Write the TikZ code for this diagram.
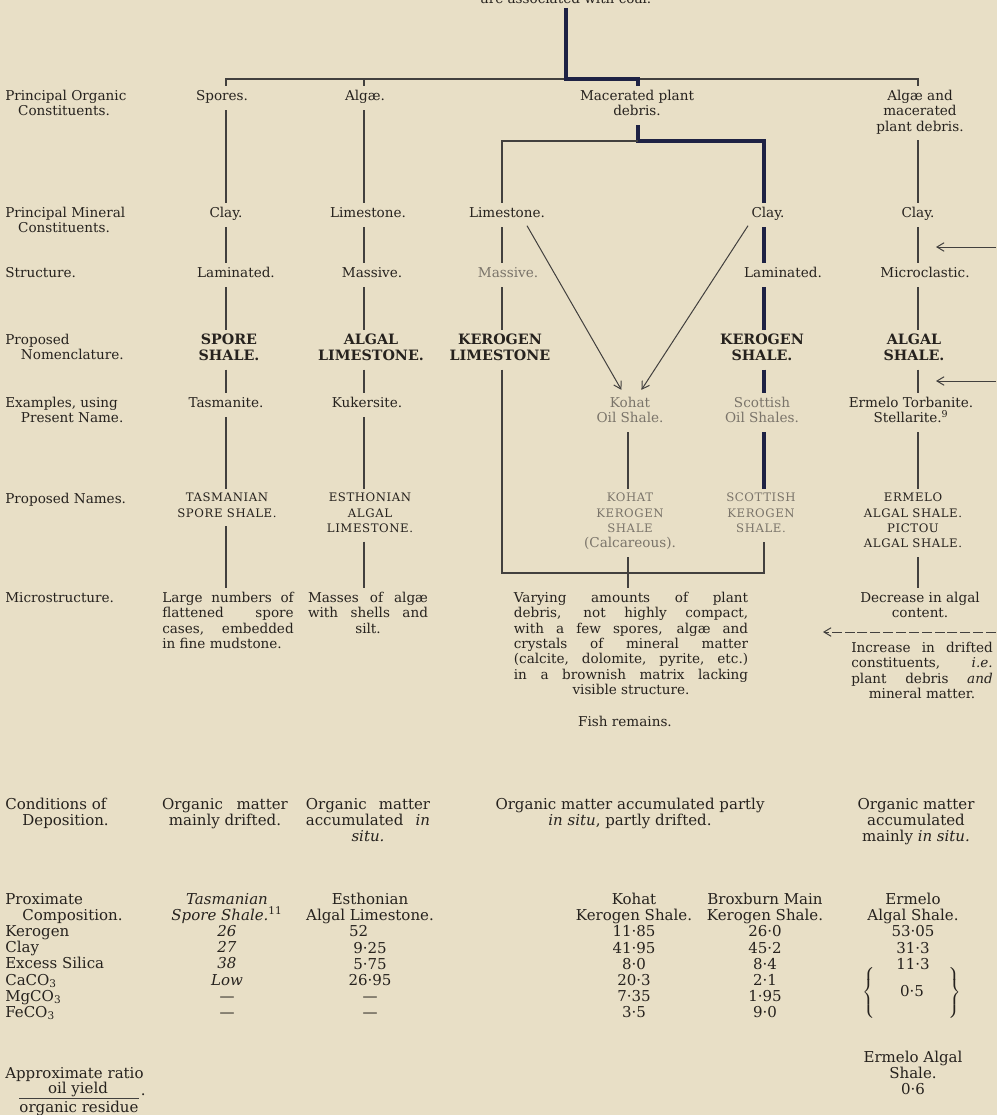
\documentclass[tikz,border=0pt]{standalone}
\usepackage{fontspec}
\setmainfont{DejaVu Serif}
\usetikzlibrary{arrows.meta}

\definecolor{paper}{RGB}{232,223,198}
\definecolor{ink}{RGB}{38,34,30}
\definecolor{faintink}{RGB}{122,116,106}
\definecolor{linecol}{RGB}{66,64,62}
\definecolor{thickcol}{RGB}{30,34,68}

\newcommand{\upperfont}{\fontsize{9.5}{10.7}\selectfont}
\newcommand{\lowerfont}{\fontsize{10.5}{11.3}\selectfont}
\newcommand{\nomfont}{\fontsize{10}{10.9}\selectfont\bfseries}
\newcommand{\namefont}{\fontsize{8.2}{10.7}\selectfont\addfontfeatures{LetterSpace=5}}
\newcommand{\jl}[2]{\makebox[#1][s]{#2}}

\begin{document}
\begin{tikzpicture}[x=0.7pt,y=-0.7pt,
    txt/.style={anchor=north, align=center, inner sep=0pt, font=\upperfont,
      text=ink, execute at begin node=\strut},
    lbl/.style={txt, anchor=north west, align=left},
    faint/.style={txt, text=faintink},
    nom/.style={txt, font=\nomfont},
    pname/.style={txt, font=\namefont},
    low/.style={txt, font=\lowerfont},
    link/.style={draw=linecol, line width=0.8pt, shorten <=3pt, shorten >=3pt},
    main/.style={draw=thickcol, line width=2.4pt, shorten <=3pt, shorten >=3pt},
    pointer/.style={draw=linecol, line width=0.7pt,
      -{Straight Barb[length=5pt,width=6pt]}}]

  \useasboundingbox (0,0) rectangle (997,1115);
  \clip (0,0) rectangle (997,1115);
  \fill[paper] (0,0) rectangle (997,1115);

  % heading, cut by the page edge
  \node[txt] (topnote) at (566,-7) {are associated with coal.};

  % row labels
  \node[lbl] (lorg) at (5,90) {Principal Organic\\\hspace*{9pt}Constituents.};
  \node[lbl] (lmin) at (5,207) {Principal Mineral\\\hspace*{9pt}Constituents.};
  \node[lbl] (lstr) at (5,267) {Structure.};
  \node[lbl] (lnom) at (5,334) {Proposed\\\hspace*{11pt}Nomenclature.};
  \node[lbl] (lex) at (5,397) {Examples, using\\\hspace*{11pt}Present Name.};
  \node[lbl] (lnames) at (5,493) {Proposed Names.};
  \node[lbl] (lmicro) at (5,592) {Microstructure.};
  \node[lbl, font=\lowerfont] (lcond) at (5,798) {Conditions of\\\hspace*{12pt}Deposition.};
  \node[lbl, font=\lowerfont] (lprox) at (5,893) {Proximate\\\hspace*{12pt}Composition.\\Kerogen\\Clay\\Excess Silica\\CaCO\textsubscript{3}\\MgCO\textsubscript{3}\\FeCO\textsubscript{3}};
  \node[lbl, font=\lowerfont] (lratio) at (5,1067) {Approximate ratio};

  % organic constituents
  \node[txt] (spores) at (222,90) {Spores.};
  \node[txt] (algae) at (365,90) {Algæ.};
  \node[txt] (macer) at (637,90) {Macerated plant\\debris.};
  \node[txt] (rdeb) at (920,90) {Algæ and\\macerated\\plant debris.};

  % mineral constituents
  \node[txt] (sclay) at (226,207) {Clay.};
  \node[txt] (alime) at (368,207) {Limestone.};
  \node[txt] (klime) at (507,207) {Limestone.};
  \node[txt] (hclay) at (768,207) {Clay.};
  \node[txt] (rclay) at (918,207) {Clay.};

  % structure
  \node[txt] (slam) at (236,267) {Laminated.};
  \node[txt] (amass) at (372,267) {Massive.};
  \node[faint] (kmass) at (508,267) {Massive.};
  \node[txt] (hlam) at (783,267) {Laminated.};
  \node[txt] (rmicro) at (925,267) {Microclastic.};

  % nomenclature
  \node[nom] (snom) at (229,334) {SPORE\\SHALE.};
  \node[nom] (anom) at (371,334) {ALGAL\\LIMESTONE.};
  \node[nom] (knom) at (500,334) {KEROGEN\\LIMESTONE};
  \node[nom] (hnom) at (762,334) {KEROGEN\\SHALE.};
  \node[nom] (rnom) at (914,334) {ALGAL\\SHALE.};

  % examples
  \node[txt] (sex) at (226,397) {Tasmanite.};
  \node[txt] (aex) at (367,397) {Kukersite.};
  \node[faint] (kohatex) at (630,397) {Kohat\\Oil Shale.};
  \node[faint] (hex) at (762,397) {Scottish\\Oil Shales.};
  \node[txt] (rex) at (911,397) {Ermelo Torbanite.\\Stellarite.\textsuperscript{9}};

  % proposed names
  \node[pname] (sname) at (227,493) {TASMANIAN\\SPORE SHALE.};
  \node[pname] (aname) at (370,493) {ESTHONIAN\\ALGAL\\LIMESTONE.};
  \node[pname, text=faintink] (kohatname) at (630,493) {KOHAT\\KEROGEN\\SHALE\\{\rmfamily\upperfont(Calcareous).}};
  \node[pname, text=faintink] (hname) at (761,493) {SCOTTISH\\KEROGEN\\SHALE.};
  \node[pname] (rname) at (913,493) {ERMELO\\ALGAL SHALE.\\PICTOU\\ALGAL SHALE.};

  % microstructure
  \node[txt] (smicro) at (228,592) {\jl{92pt}{Large numbers of}\\\jl{92pt}{flattened spore}\\\jl{92pt}{cases, embedded}\\\makebox[92pt][l]{in fine mudstone.}};
  \node[txt] (amicro) at (368,592) {\jl{84pt}{Masses of algæ}\\\jl{84pt}{with shells and}\\silt.};
  \node[txt] (varying) at (631,592) {\jl{164pt}{Varying amounts of plant}\\\jl{164pt}{debris, not highly compact,}\\\jl{164pt}{with a few spores, algæ and}\\\jl{164pt}{crystals of mineral matter}\\\jl{164pt}{(calcite, dolomite, pyrite, etc.)}\\\jl{164pt}{in a brownish matrix lacking}\\visible structure.};
  \node[txt] (fish) at (625,716) {Fish remains.};
  \node[txt] (rdec) at (920,592) {Decrease in algal\\content.};
  \node[txt] (rinc) at (922,642) {\jl{99pt}{Increase in drifted}\\\jl{99pt}{constituents, \emph{i.e.}}\\\jl{99pt}{plant debris \emph{and}}\\mineral matter.};

  % conditions of deposition
  \node[low] (scond) at (225,798) {\jl{88pt}{Organic matter}\\mainly drifted.};
  \node[low] (acond) at (368,798) {\jl{87pt}{Organic matter}\\\jl{87pt}{accumulated \emph{in}}\\\emph{situ.}};
  \node[low] (kcond) at (630,798) {Organic matter accumulated partly\\\emph{in situ}, partly drifted.};
  \node[low] (rcond) at (916,798) {Organic matter\\accumulated\\mainly \emph{in situ.}};

  % proximate composition
  \node[low] (tasm) at (227,893) {\emph{Tasmanian}\\\emph{Spore Shale.}\textsuperscript{11}\\\emph{26}\\\emph{27}\\\emph{38}\\\emph{Low}\\—\\—};
  \node[low] (esth) at (370,893) {Esthonian\\Algal Limestone.\\52\kern16pt\\9·25\\5·75\\26·95\\—\\—};
  \node[low] (kohc) at (634,893) {Kohat\\Kerogen Shale.\\11·85\\41·95\\8·0\\20·3\\7·35\\3·5};
  \node[low] (brox) at (765,893) {Broxburn Main\\Kerogen Shale.\\26·0\\45·2\\8·4\\2·1\\1·95\\9·0};
  \node[low] (ermc) at (913,893) {Ermelo\\Algal Shale.\\53·05\\31·3\\11·3};
  \node[low, anchor=center] (ermbr) at (912,994) {$\left\{\vrule height 17pt depth 17pt width 0pt\right.$\hspace{16pt}0·5\hspace{16pt}$\left.\vrule height 17pt depth 17pt width 0pt\right\}$};

  % oil ratio
  \node[low] (oily) at (78,1082) {oil yield};
  \node[low] (orgres) at (79,1101) {organic residue};
  \draw[linecol, line width=0.8pt] ([yshift=2pt]orgres.north west) -- ([yshift=2pt]orgres.north east)
    node[anchor=south west, inner sep=1pt, font=\lowerfont, text=ink] (ratiodot) {.};
  \node[low] (ermratio) at (913,1051) {Ermelo Algal\\Shale.\\0·6};

  % branching from the top
  \coordinate (top) at (566,8);
  \coordinate (fork) at (566,79);
  \coordinate (forkR) at (638,79);
  \coordinate (fork2) at (638,141);
  \coordinate (cS) at (226,0);
  \coordinate (cA) at (364,0);
  \coordinate (cK) at (502,0);
  \coordinate (cO) at (628,0);
  \coordinate (cH) at (764,0);
  \coordinate (cR) at (918,0);
  \coordinate (kbot) at (502,573);
  \coordinate (hbot) at (764,573);

  \draw[link] (spores.north -| cS) -- (cS |- fork) -- (cR |- fork) -- (rdeb.north -| cR);
  \draw[link, shorten <=0pt] (cA |- fork) -- (algae.north -| cA);
  \draw[main, shorten <=0pt] (top) -- (fork) -- (forkR) -- (macer.north -| forkR);
  \draw[main] (macer.south -| fork2) -- (fork2) -- (cH |- fork2) -- (hclay.north -| cH);
  \draw[link, shorten <=0pt] (fork2) -- (cK |- fork2) -- (klime.north -| cK);

  % columns
  \foreach \a/\b in {spores/sclay, sclay/slam, slam/snom, snom/sex, sex/sname, sname/smicro}
    \draw[link] (\a.south -| cS) -- (\b.north -| cS);
  \foreach \a/\b in {algae/alime, alime/amass, amass/anom, anom/aex, aex/aname, aname/amicro}
    \draw[link] (\a.south -| cA) -- (\b.north -| cA);
  \foreach \a/\b in {klime/kmass, kmass/knom}
    \draw[link] (\a.south -| cK) -- (\b.north -| cK);
  \foreach \a/\b in {hclay/hlam, hlam/hnom, hnom/hex, hex/hname}
    \draw[main] (\a.south -| cH) -- (\b.north -| cH);
  \foreach \a/\b in {rdeb/rclay, rclay/rmicro, rmicro/rnom, rnom/rex, rex/rname, rname/rdec}
    \draw[link] (\a.south -| cR) -- (\b.north -| cR);
  \draw[link] (knom.south -| cK) -- (kbot) -- (hbot) -- (hname.south -| cH);
  \draw[link] (kohatex.south -| cO) -- (kohatname.north -| cO);
  \draw[link] (kohatname.south -| cO) -- (varying.north -| cO);

  % arrows into Kohat
  \draw[pointer] ([xshift=14pt,yshift=-2pt]klime.south) -- ([xshift=-6pt,yshift=5pt]kohatex.north);
  \draw[pointer] ([xshift=-14pt,yshift=-2pt]hclay.south) -- ([xshift=8pt,yshift=5pt]kohatex.north);

  % arrows from the right margin
  \coordinate (in1) at (996,247);
  \coordinate (in1tip) at (936,247);
  \coordinate (in2) at (996,381);
  \coordinate (in2tip) at (936,381);
  \coordinate (in3) at (996,632);
  \coordinate (in3tip) at (823,632);
  \draw[pointer] (in1) -- (in1tip);
  \draw[pointer] (in2) -- (in2tip);
  \draw[pointer, dash pattern=on 7pt off 2pt] (in3) -- (in3tip);
\end{tikzpicture}
\end{document}
